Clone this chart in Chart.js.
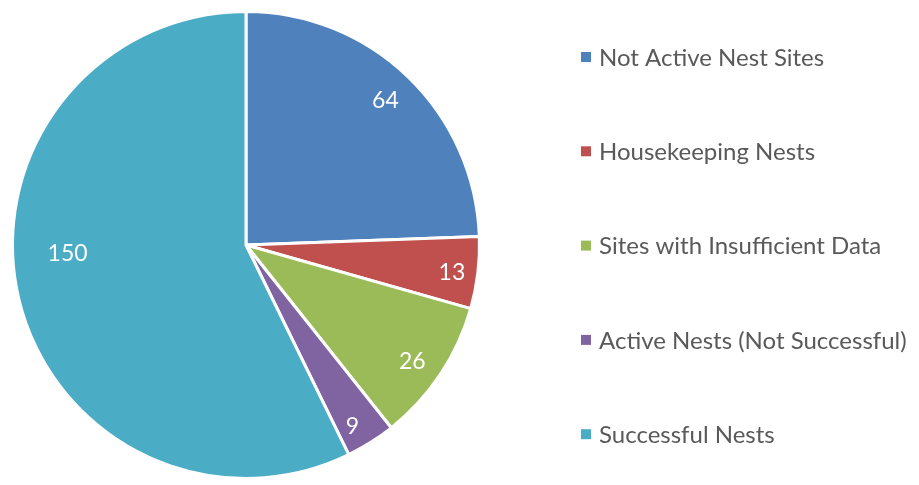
<!DOCTYPE html>
<html>
<head>
<meta charset="utf-8">
<script src="https://cdn.jsdelivr.net/npm/chart.js@4/dist/chart.umd.min.js"></script>
<style>
html,body{margin:0;padding:0;background:#fff;}
#wrap{width:919px;height:485px;position:relative;}
</style>
</head>
<body>
<div id="wrap"><canvas id="c" width="919" height="485"></canvas></div>
<script>
const categories = ["Not Active Nest Sites", "Housekeeping Nests", "Sites with Insufficient Data", "Active Nests (Not Successful)", "Successful Nests"];
const nestCounts = [64, 13, 26, 9, 150];
const sliceColors = ["#4F81BD", "#C0504D", "#9BBB59", "#8064A2", "#4BACC6"];

const FONT = "Lato, 'Open Sans', sans-serif";

const sliceLabels = {
  id: 'sliceLabels',
  afterDatasetsDraw(chart, args, opts) {
    const ctx = chart.ctx;
    const meta = chart.getDatasetMeta(0);
    const ds = chart.data.datasets[0];
    ctx.save();
    ctx.fillStyle = '#FFFFFF';
    ctx.font = opts.size + 'px ' + FONT;
    ctx.textAlign = 'center';
    ctx.textBaseline = 'middle';
    meta.data.forEach((arc, i) => {
      const p = arc.getProps(['x','y','startAngle','endAngle','outerRadius'], true);
      const f = opts.angleFrac[i];
      const a = p.startAngle + (p.endAngle - p.startAngle) * f;
      const r = p.outerRadius * opts.radiusFrac[i];
      ctx.fillText(String(ds.data[i]), p.x + Math.cos(a) * r, p.y + Math.sin(a) * r);
    });
    ctx.restore();
  }
};

const sideLegend = {
  id: 'sideLegend',
  afterDraw(chart, args, opts) {
    const ctx = chart.ctx;
    const labels = chart.data.labels;
    const colors = chart.data.datasets[0].backgroundColor;
    ctx.save();
    ctx.font = opts.size + 'px ' + FONT;
    ctx.textBaseline = 'middle';
    ctx.textAlign = 'left';
    labels.forEach((lab, i) => {
      const cy = opts.top + i * opts.step;
      ctx.fillStyle = colors[i];
      ctx.fillRect(opts.x, cy - opts.box / 2, opts.box, opts.box);
      ctx.fillStyle = '#595959';
      ctx.fillText(lab, opts.x + opts.box + 8, cy + 1);
    });
    ctx.restore();
  }
};

new Chart(document.getElementById('c'), {
  type: 'pie',
  data: {
    labels: categories,
    datasets: [{
      data: nestCounts,
      backgroundColor: sliceColors,
      borderColor: '#FFFFFF',
      borderWidth: 3
    }]
  },
  options: {
    responsive: false,
    animation: false,
    events: [],
    layout: { padding: { left: 11, top: 10, right: 438, bottom: 5 } },
    plugins: {
      legend: { display: false },
      tooltip: { enabled: false },
      sliceLabels: {
        size: 23,
        radiusFrac: [0.86, 0.89, 0.87, 0.90, 0.765],
        angleFrac: [0.5, 0.55, 0.54, 0.65, 0.55]
      },
      sideLegend: { x: 581, top: 57, step: 94.3, box: 10, size: 24 }
    }
  },
  plugins: [sliceLabels, sideLegend]
});
</script>
</body>
</html>
